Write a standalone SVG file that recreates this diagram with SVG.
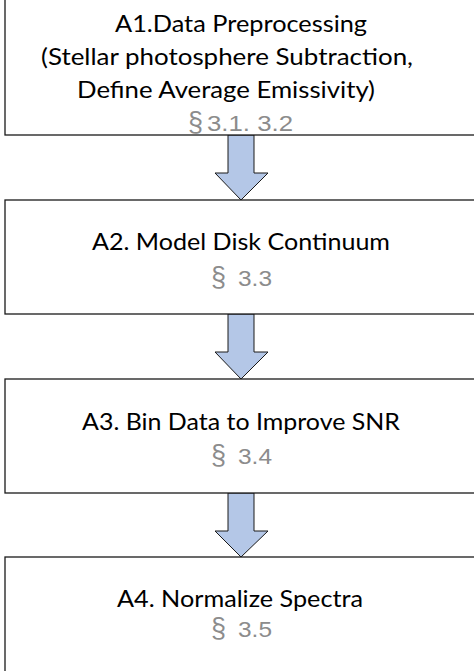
<svg xmlns="http://www.w3.org/2000/svg" width="474" height="671" viewBox="0 0 474 671">
<style>
.box{fill:#fff;stroke:#1a1a1a;stroke-width:1.3}
.t{font-family:Lato,"Liberation Sans",sans-serif;font-size:23px;fill:#000}
.s{font-family:"Liberation Sans",Arial,sans-serif;font-size:22px;fill:#8c8c8c}
.p{font-size:27px}
.arr{fill:#b4c7e7;stroke:#1a1a1a;stroke-width:1}
</style>
<rect width="474" height="671" fill="#fff"/>
<g id="connectors">
<polygon class="arr" points="228,135 254,135 254,173 268,173 241,200 215,173 228,173"/>
<polygon class="arr" points="228,314 254,314 254,352 268,352 241,379 215,352 228,352"/>
<polygon class="arr" points="228,493 254,493 254,531 268,531 241,557 215,531 228,531"/>
</g>
<g id="A1">
<rect class="box" x="5" y="-5" width="475" height="140"/>
<text class="t" x="115" y="32" textLength="252" lengthAdjust="spacingAndGlyphs">A1.Data Preprocessing</text>
<text class="t" x="41" y="65" textLength="372" lengthAdjust="spacingAndGlyphs">(Stellar photosphere Subtraction,</text>
<text class="t" x="77" y="98" textLength="298" lengthAdjust="spacingAndGlyphs">Define Average Emissivity)</text>
<text class="s" y="131"><tspan class="p" x="188">§</tspan><tspan x="207" textLength="86" lengthAdjust="spacingAndGlyphs">3.1. 3.2</tspan></text>
</g>
<g id="A2">
<rect class="box" x="5" y="200" width="475" height="114"/>
<text class="t" x="92" y="250" textLength="298" lengthAdjust="spacingAndGlyphs">A2. Model Disk Continuum</text>
<text class="s" y="286"><tspan class="p" x="211">§</tspan><tspan x="238" textLength="34" lengthAdjust="spacingAndGlyphs">3.3</tspan></text>
</g>
<g id="A3">
<rect class="box" x="5" y="379" width="475" height="114"/>
<text class="t" x="82" y="430" textLength="318" lengthAdjust="spacingAndGlyphs">A3. Bin Data to Improve SNR</text>
<text class="s" y="464"><tspan class="p" x="211">§</tspan><tspan x="238" textLength="34" lengthAdjust="spacingAndGlyphs">3.4</tspan></text>
</g>
<g id="A4">
<rect class="box" x="5" y="557" width="475" height="130"/>
<text class="t" x="117" y="607" textLength="246" lengthAdjust="spacingAndGlyphs">A4. Normalize Spectra</text>
<text class="s" y="637"><tspan class="p" x="211">§</tspan><tspan x="238" textLength="34" lengthAdjust="spacingAndGlyphs">3.5</tspan></text>
</g>
</svg>
